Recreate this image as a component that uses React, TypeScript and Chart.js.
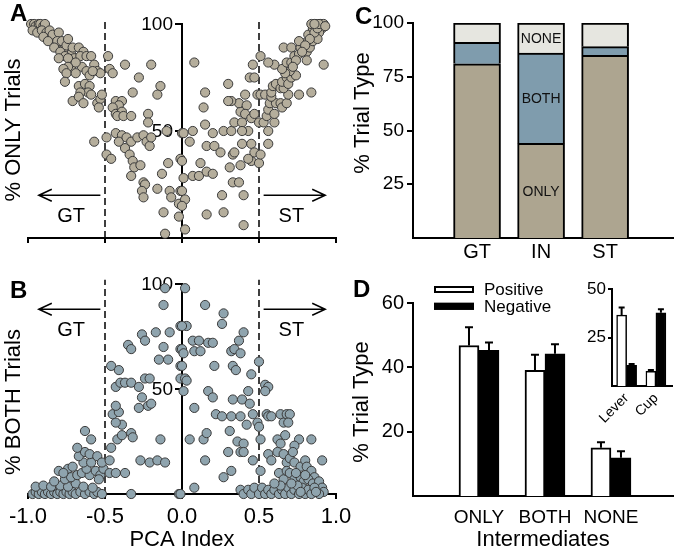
import React, { useEffect, useRef } from "react";
import { Chart, registerables } from "chart.js";

Chart.register(...registerables);

const FONT = '"Liberation Sans", Arial, Helvetica, sans-serif';
Chart.defaults.font.family = FONT;
Chart.defaults.color = "#000";

// ---------------- DATA ----------------
// Panel A: PCA index vs % ONLY trials
const onlyTrials: [number, number][] = [
  [-0.98, 100], [-0.96, 100], [-0.95, 99], [-0.93, 100], [-0.92, 100], [-0.9, 99], [-0.89, 100], [-0.97, 97], [-0.94, 96], [-0.91, 97], [-0.88, 96], [-0.86, 97], [-0.9, 94],
  [-0.85, 93], [-0.82, 90], [-0.77, 88], [-0.72, 86], [-0.7, 84], [-0.84, 95], [-0.87, 92], [-0.72, 80], [-0.65, 80], [-0.62, 78], [-0.6, 76],
  [-0.8, 96], [-0.81, 92], [-0.78, 92], [-0.75, 90], [-0.74, 93], [-0.83, 89], [-0.79, 87], [-0.76, 85], [-0.8, 84], [-0.74, 84], [-0.71, 89], [-0.67, 89], [-0.64, 87], [-0.66, 85], [-0.62, 85], [-0.59, 85], [-0.69, 82], [-0.74, 80], [-0.77, 79], [-0.75, 77], [-0.69, 77], [-0.76, 73], [-0.57, 81], [-0.55, 78], [-0.53, 77], [-0.58, 78],
  [-0.48, 85], [-0.47, 79], [-0.45, 77], [-0.37, 81], [-0.2, 81], [-0.28, 75], [-0.14, 71], [-0.16, 67], [-0.32, 68],
  [-0.67, 71], [-0.63, 72], [-0.6, 71], [-0.61, 68], [-0.66, 68], [-0.71, 64], [-0.67, 66], [-0.64, 63], [-0.59, 67], [-0.55, 63], [-0.53, 65], [-0.52, 67], [-0.54, 61],
  [-0.43, 64], [-0.39, 64], [-0.41, 62], [-0.45, 61], [-0.43, 58], [-0.39, 59], [-0.42, 57], [-0.38, 57], [-0.33, 57], [-0.22, 58], [-0.22, 54], [-0.1, 50],
  [-0.57, 45], [-0.49, 47], [-0.43, 49], [-0.39, 48], [-0.41, 45], [-0.36, 47], [-0.33, 45], [-0.29, 47], [-0.25, 48], [-0.23, 45], [-0.21, 43], [-0.2, 47], [-0.37, 42], [-0.49, 39], [-0.46, 37], [-0.34, 39], [-0.32, 36], [-0.31, 33], [-0.33, 29], [-0.27, 34], [-0.25, 26], [-0.24, 25], [-0.26, 22], [-0.25, 19], [-0.16, 23], [-0.09, 35], [-0.13, 30], [-0.08, 22], [-0.07, 19], [-0.01, 22], [-0.02, 16], [-0.12, 12], [-0.11, 2], [-0.02, 10], [-0.01, 37], [0.0, 49],
  [0.08, 82], [0.15, 68], [0.14, 61], [0.3, 72], [0.01, 49], [0.07, 50], [0.15, 53], [0.2, 49], [0.05, 45], [0.16, 43], [0.21, 43], [0.25, 40], [0.0, 36], [0.12, 35], [0.01, 28], [0.07, 29], [0.11, 29], [0.16, 31], [0.2, 30], [0.0, 22], [0.02, 18], [0.0, 15], [0.02, 4], [0.16, 11], [0.26, 20], [0.27, 12], [0.33, 26], [0.37, 26], [0.4, 20], [0.4, 6], [0.31, 33], [0.33, 39], [0.38, 34], [0.34, 40], [0.39, 44], [0.45, 44], [0.45, 36], [0.5, 35], [0.47, 40], [0.51, 39], [0.43, 37], [0.56, 44],
  [0.27, 50], [0.32, 50], [0.34, 54], [0.39, 54], [0.43, 50], [0.39, 50], [0.38, 59], [0.37, 63], [0.32, 64], [0.3, 64], [0.41, 67], [0.42, 62], [0.41, 58], [0.45, 56], [0.47, 58], [0.5, 54], [0.53, 54], [0.56, 50], [0.55, 57], [0.56, 60], [0.6, 54], [0.6, 58], [0.57, 63], [0.61, 63], [0.64, 63], [0.65, 61], [0.68, 63], [0.69, 67], [0.76, 67], [0.84, 68], [0.49, 67], [0.51, 67], [0.54, 67], [0.58, 66], [0.58, 68], [0.59, 71], [0.61, 72], [0.64, 70], [0.66, 70], [0.65, 73], [0.68, 75], [0.69, 72], [0.71, 75], [0.74, 76], [0.7, 78], [0.67, 77], [0.65, 79], [0.6, 81], [0.56, 82], [0.51, 85], [0.46, 81], [0.44, 75], [0.47, 75],
  [0.66, 89], [0.71, 89], [0.68, 82], [0.71, 82], [0.73, 85], [0.76, 86], [0.77, 89], [0.79, 91], [0.76, 92], [0.81, 87], [0.81, 83], [0.83, 89], [0.85, 92], [0.82, 95], [0.85, 98], [0.87, 100], [0.9, 100], [0.84, 100], [0.92, 100], [0.91, 98], [0.89, 96], [0.88, 93], [0.92, 81],
  [0.86, 96], [0.88, 98], [0.83, 93], [0.8, 90], [0.78, 87], [0.74, 83], [0.72, 80], [0.89, 100], [0.86, 100], [0.93, 99],
];

// Panel B: PCA index vs % BOTH trials
const bothTrials: [number, number][] = [
  [-0.97, 0], [-0.95, 1], [-0.93, 0], [-0.91, 1], [-0.89, 0], [-0.87, 1], [-0.85, 0], [-0.83, 1], [-0.81, 0], [-0.79, 1], [-0.77, 0], [-0.75, 1], [-0.73, 0], [-0.71, 1], [-0.69, 0], [-0.66, 1], [-0.63, 0], [-0.6, 1], [-0.57, 0], [-0.55, 1], [-0.52, 0],
  [-0.95, 3.5], [-0.9, 4], [-0.85, 3.5], [-0.79, 4], [-0.74, 3.5], [-0.69, 5], [-0.64, 3.5], [-0.58, 3],
  [-0.83, 6], [-0.76, 7], [-0.8, 11], [-0.74, 12], [-0.72, 8], [-0.68, 9], [-0.65, 10], [-0.6, 9], [-0.56, 11], [-0.53, 9], [-0.62, 12], [-0.54, 7], [-0.64, 15], [-0.59, 15], [-0.67, 18], [-0.63, 20], [-0.6, 19], [-0.55, 18], [-0.68, 22], [-0.59, 26], [-0.63, 30], [-0.71, 13], [-0.77, 10], [-0.51, 12], [-0.52, 15],
  [-0.47, 10], [-0.43, 10], [-0.37, 10], [-0.47, 16], [-0.46, 22], [-0.42, 26], [-0.39, 28], [-0.39, 33], [-0.43, 34], [-0.45, 38], [-0.41, 39], [-0.43, 42], [-0.33, 29], [-0.32, 27], [-0.27, 16], [-0.21, 15], [-0.16, 16], [-0.11, 15], [-0.14, 26], [-0.33, 0], [-0.02, 0],
  [-0.46, 61], [-0.41, 59], [-0.43, 51], [-0.4, 53], [-0.37, 53], [-0.33, 53], [-0.28, 51], [-0.26, 46], [-0.28, 41], [-0.22, 42], [-0.2, 43], [-0.24, 55], [-0.21, 55],
  [-0.35, 71], [-0.33, 69], [-0.26, 76], [-0.24, 73], [-0.17, 77], [-0.12, 70], [-0.15, 64], [-0.09, 64], [-0.08, 77], [-0.01, 80], [-0.01, 69], [-0.01, 61], [-0.01, 55], [-0.12, 90], [-0.11, 98],
  [0.02, 98], [0.15, 90], [0.27, 86], [0.26, 81], [0.03, 80], [0.0, 80], [0.07, 73], [0.11, 73], [0.17, 72], [0.2, 72], [0.08, 68], [0.12, 68], [0.0, 69], [0.01, 67], [0.0, 61], [0.02, 55], [0.03, 54], [0.01, 49], [0.21, 61], [0.32, 68], [0.34, 69], [0.37, 73], [0.38, 67], [0.4, 77], [0.33, 61], [0.35, 59], [0.45, 57], [0.5, 63], [0.54, 52], [0.56, 51], [0.54, 49], [0.17, 49], [0.2, 46], [0.43, 49], [0.33, 45], [0.39, 45], [0.44, 43],
  [0.08, 41], [0.22, 38], [0.26, 37], [0.32, 37], [0.38, 37], [0.42, 33], [0.46, 38], [0.49, 34], [0.5, 32], [0.31, 30], [0.55, 38], [0.56, 37], [0.58, 37], [0.64, 38], [0.66, 34], [0.68, 38], [0.7, 38], [0.69, 34], [0.67, 28], [0.05, 26], [0.14, 26], [0.16, 29], [0.36, 25], [0.4, 24], [0.38, 20], [0.4, 20], [0.3, 20], [0.51, 26], [0.62, 26], [0.64, 24], [0.76, 26], [0.84, 26], [0.73, 23],
  [0.15, 16], [0.27, 8], [0.32, 11], [0.46, 16], [0.51, 11], [0.56, 19], [0.58, 16], [0.62, 20], [0.66, 19], [0.68, 15], [0.7, 17], [0.72, 20], [0.73, 15], [0.77, 13], [0.8, 16], [0.81, 13], [0.84, 11], [0.91, 16], [0.86, 8], [0.63, 10], [0.66, 7], [0.68, 11], [0.7, 10], [0.73, 7], [0.77, 8], [0.79, 6], [0.82, 7], [0.85, 5], [0.89, 6], [0.91, 3], [0.92, 1],
  [0.08, 3], [0.38, 2], [0.4, 0], [0.43, 2], [0.45, 0], [0.47, 3], [0.5, 0], [0.52, 3], [0.54, 0], [0.56, 2], [0.58, 0], [0.6, 2], [0.63, 0], [0.65, 2], [0.67, 0], [0.69, 3], [0.71, 0], [0.73, 2], [0.76, 0], [0.78, 3], [0.8, 0], [0.82, 2], [0.84, 0], [0.86, 3], [0.89, 0], [-0.01, 0],
  [0.75, 4], [0.71, 5], [0.8, 9], [0.74, 10], [0.87, 1], [0.77, 1], [0.64, 4], [0.6, 5],
];

const pcaTicks = [-1, -0.5, 0, 0.5, 1];
const pctTicksAB = [50, 100];
const cutoffs = [-0.5, 0.5];
const cutoffTop = 102;
const gtArrow = [-0.53, -0.93];
const stArrow = [0.53, 0.93];
const gtLabelX = -0.72;
const stLabelX = 0.71;
const arrowLevelA = 20;
const labelLevelA = 10;
const arrowLevelB = 88;
const labelLevelB = 78;

// Panel C: stacked trial type
const groups = ["GT", "IN", "ST"];
const onlyPct = [81, 44, 85];
const bothPct = [10, 42, 4];
const nonePct = [9, 14, 11];
const stackTicks = [25, 50, 75, 100];

// Panel D: intermediates
const intermediateCats = ["ONLY", "BOTH", "NONE"];
const positiveMean = [46.8, 39.1, 15.0];
const positiveErr = [5.7, 4.8, 1.7];
const negativeMean = [45.3, 44.2, 11.9];
const negativeErr = [2.4, 3.0, 2.0];
const dTicks = [20, 40, 60];

// Panel D inset
const insetCats = ["Lever", "Cup"];
const insetPositive = [36.5, 7.6];
const insetPositiveErr = [4.0, 0.6];
const insetNegative = [10.7, 37.7];
const insetNegativeErr = [0.7, 1.9];
const insetTicks = [25, 50];

// ---------------- STYLE ----------------
const FILL_A = "#b5ae9c";
const FILL_B = "#8fa4ae";
const C_ONLY = "#ada590";
const C_BOTH = "#7f9cad";
const C_NONE = "#e6e6e0";

const axisBorder = { color: "#000", width: 2 };

const fix = (size: number) => (s: any) => {
  if (s.isHorizontal()) s.height = size;
  else s.width = size;
  s.paddingLeft = 0;
  s.paddingRight = 0;
  s.paddingTop = 0;
  s.paddingBottom = 0;
};
const setTicks = (vals: number[]) => (s: any) => {
  s.ticks = vals.map((v) => ({ value: v }));
};

type TextItem = {
  text: string;
  x: number;
  y: number;
  size: number;
  bold?: boolean;
  rotate?: number;
  align?: CanvasTextAlign;
  baseline?: CanvasTextBaseline;
};

const textPlugin = (items: TextItem[]) => ({
  id: "texts",
  afterDraw(chart: any) {
    const ctx = chart.ctx;
    items.forEach((t) => {
      ctx.save();
      ctx.translate(t.x, t.y);
      if (t.rotate) ctx.rotate(t.rotate);
      ctx.font = `${t.bold ? "bold " : ""}${t.size}px ${FONT}`;
      ctx.fillStyle = "#000";
      ctx.textAlign = t.align ?? "center";
      ctx.textBaseline = t.baseline ?? "middle";
      ctx.fillText(t.text, 0, 0);
      ctx.restore();
    });
  },
});

// tick labels for the y axis that sits at PCA index 0 (drawn under the points)
const centerAxisLabels = {
  id: "centerLabels",
  beforeDatasetsDraw(chart: any) {
    const { x, y } = chart.scales;
    const ctx = chart.ctx;
    const ax = x.getPixelForValue(0);
    ctx.save();
    ctx.fillStyle = "#000";
    ctx.font = `19px ${FONT}`;
    ctx.textAlign = "right";
    ctx.textBaseline = "middle";
    y.ticks.forEach((t: any) => {
      ctx.fillText(String(t.value), ax - 9, y.getPixelForValue(t.value) + 1);
    });
    ctx.restore();
  },
};

const arrowPlugin = (arrowY: number, labelY: number) => ({
  id: "arrows",
  afterDatasetsDraw(chart: any) {
    const { x, y } = chart.scales;
    const ctx = chart.ctx;
    const py = y.getPixelForValue(arrowY);
    const ly = y.getPixelForValue(labelY);
    ctx.save();
    ctx.strokeStyle = "#000";
    ctx.lineWidth = 1.5;
    [gtArrow, stArrow].forEach(([from, to]) => {
      const x1 = x.getPixelForValue(from);
      const x2 = x.getPixelForValue(to);
      const dir = Math.sign(x2 - x1);
      ctx.beginPath();
      ctx.moveTo(x1, py);
      ctx.lineTo(x2, py);
      ctx.moveTo(x2 - dir * 13, py - 6);
      ctx.lineTo(x2, py);
      ctx.lineTo(x2 - dir * 13, py + 6);
      ctx.stroke();
    });
    ctx.fillStyle = "#000";
    ctx.font = `20px ${FONT}`;
    ctx.textAlign = "center";
    ctx.textBaseline = "middle";
    ctx.fillText("GT", x.getPixelForValue(gtLabelX), ly);
    ctx.fillText("ST", x.getPixelForValue(stLabelX), ly);
    ctx.restore();
  },
});

const errorBarPlugin = (cap: number) => ({
  id: "errbars",
  afterDatasetsDraw(chart: any) {
    const ctx = chart.ctx;
    const yS = chart.scales.y;
    ctx.save();
    ctx.strokeStyle = "#000";
    ctx.lineWidth = 2;
    chart.data.datasets.forEach((ds: any, i: number) => {
      if (!ds.errors) return;
      const meta = chart.getDatasetMeta(i);
      meta.data.forEach((el: any, j: number) => {
        const top = yS.getPixelForValue(ds.data[j].y + ds.errors[j]);
        ctx.beginPath();
        ctx.moveTo(el.x, el.y);
        ctx.lineTo(el.x, top);
        ctx.moveTo(el.x - cap, top);
        ctx.lineTo(el.x + cap, top);
        ctx.stroke();
      });
    });
    ctx.restore();
  },
});

const segmentLabelPlugin = (groupIndex: number) => ({
  id: "seglabels",
  afterDatasetsDraw(chart: any) {
    const ctx = chart.ctx;
    ctx.save();
    ctx.fillStyle = "#111";
    ctx.font = `14px ${FONT}`;
    ctx.textAlign = "center";
    ctx.textBaseline = "middle";
    chart.data.datasets.forEach((ds: any, i: number) => {
      const el = chart.getDatasetMeta(i).data[groupIndex];
      ctx.fillText(ds.label, el.x, (el.y + el.base) / 2 + 1);
    });
    ctx.restore();
  },
});

const legendPlugin = {
  id: "dlegend",
  afterDraw(chart: any) {
    const ctx = chart.ctx;
    ctx.save();
    chart.data.datasets.forEach((ds: any, i: number) => {
      const cy = 29.5 + i * 16.8;
      ctx.fillStyle = ds.backgroundColor;
      ctx.fillRect(94, cy - 3.5, 40, 7);
      ctx.strokeStyle = "#000";
      ctx.lineWidth = 2;
      ctx.strokeRect(95, cy - 2.5, 38, 5);
      ctx.fillStyle = "#000";
      ctx.font = `17px ${FONT}`;
      ctx.textAlign = "left";
      ctx.textBaseline = "middle";
      ctx.fillText(ds.label, 144, cy + 1);
    });
    ctx.restore();
  },
};

const baseOptions = {
  responsive: false,
  animation: false,
  events: [],
  plugins: { legend: { display: false }, tooltip: { enabled: false } },
};

function scatterConfig(
  points: [number, number][],
  fill: string,
  W: number,
  H: number,
  top: number,
  bottom: number,
  showLabels: boolean,
  arrowY: number,
  labelY: number,
  texts: TextItem[]
) {
  return {
    type: "scatter",
    data: {
      datasets: [
        {
          data: points.map(([x, y]) => ({ x, y })),
          backgroundColor: fill,
          borderColor: "#3a3a3a",
          borderWidth: 1,
          pointRadius: 4.6,
          clip: false,
          order: 0,
        },
        ...cutoffs.map((c) => ({
          type: "line",
          data: [
            { x: c, y: 0 },
            { x: c, y: cutoffTop },
          ],
          borderColor: "#000",
          borderWidth: 1.5,
          borderDash: [7, 4],
          pointRadius: 0,
          clip: false,
          order: 1,
        })),
      ],
    },
    options: {
      ...baseOptions,
      layout: { padding: { left: 28, top, right: W - 336, bottom: 0 } },
      scales: {
        x: {
          type: "linear",
          min: -1,
          max: 1,
          offset: false,
          afterBuildTicks: setTicks(pcaTicks),
          afterFit: fix(H - bottom),
          grid: { drawOnChartArea: false, drawTicks: true, tickLength: 5, color: "#000", lineWidth: 2 },
          border: axisBorder,
          ticks: {
            display: showLabels,
            font: { size: 22 },
            padding: 5,
            maxRotation: 0,
            callback: (v: number) => v.toFixed(1),
          },
          title: showLabels
            ? { display: true, text: "PCA Index", font: { size: 22 }, padding: { top: 0, bottom: 0 } }
            : { display: false },
        },
        y: {
          type: "linear",
          position: { x: 0 },
          min: 0,
          max: 100,
          afterBuildTicks: setTicks(pctTicksAB),
          afterFit: fix(30),
          grid: { drawOnChartArea: false, tickLength: 6, color: "#000", lineWidth: 2 },
          border: axisBorder,
          ticks: { display: false },
        },
      },
    },
    plugins: [centerAxisLabels, arrowPlugin(arrowY, labelY), textPlugin(texts)],
  };
}

function configA() {
  return scatterConfig(onlyTrials, FILL_A, 345, 255, 24, 238, false, arrowLevelA, labelLevelA, [
    { text: "A", x: 10, y: 21, size: 24, bold: true, align: "left", baseline: "alphabetic" },
    { text: "% ONLY Trials", x: 14, y: 130, size: 22, rotate: -Math.PI / 2 },
  ]);
}

function configB() {
  return scatterConfig(bothTrials, FILL_B, 360, 298, 29, 239, true, arrowLevelB, labelLevelB, [
    { text: "B", x: 10, y: 43, size: 24, bold: true, align: "left", baseline: "alphabetic" },
    { text: "% BOTH Trials", x: 14, y: 147, size: 22, rotate: -Math.PI / 2 },
  ]);
}

function configC() {
  const seg = (label: string, vals: number[], color: string) => ({
    label,
    data: vals.map((v, i) => ({ x: i + 1, y: v })),
    backgroundColor: color,
    borderColor: "#000",
    borderWidth: 2,
    borderSkipped: "start",
    barThickness: 47,
    stack: "trials",
  });
  return {
    type: "bar",
    data: {
      datasets: [seg("ONLY", onlyPct, C_ONLY), seg("BOTH", bothPct, C_BOTH), seg("NONE", nonePct, C_NONE)],
    },
    options: {
      ...baseOptions,
      layout: { padding: { left: 0, top: 23, right: 3, bottom: 0 } },
      scales: {
        x: {
          type: "linear",
          min: 0,
          max: 4.06,
          offset: false,
          afterBuildTicks: setTicks([1, 2, 3]),
          afterFit: fix(22),
          grid: { display: false, drawTicks: false, offset: false },
          border: axisBorder,
          ticks: { font: { size: 20 }, padding: 2, maxRotation: 0, callback: (v: number) => groups[v - 1] ?? "" },
        },
        y: {
          type: "linear",
          stacked: true,
          min: 0,
          max: 100,
          afterBuildTicks: setTicks(stackTicks),
          afterFit: fix(73),
          grid: { drawOnChartArea: false, tickLength: 6, color: "#000", lineWidth: 2 },
          border: axisBorder,
          ticks: { font: { size: 19 }, padding: 3 },
        },
      },
    },
    plugins: [
      segmentLabelPlugin(1),
      textPlugin([
        { text: "C", x: 15, y: 24, size: 24, bold: true, align: "left", baseline: "alphabetic" },
        { text: "% Trial Type", x: 23, y: 113, size: 22, rotate: -Math.PI / 2 },
      ]),
    ],
  };
}

function configD() {
  const ds = (label: string, vals: number[], errs: number[], color: string) => ({
    label,
    data: vals.map((v, i) => ({ x: i + 1, y: v })),
    errors: errs,
    backgroundColor: color,
    borderColor: "#000",
    borderWidth: 2,
    borderSkipped: "start",
    barThickness: 20,
  });
  return {
    type: "bar",
    data: {
      datasets: [ds("Positive", positiveMean, positiveErr, "#ffffff"), ds("Negative", negativeMean, negativeErr, "#000000")],
    },
    options: {
      ...baseOptions,
      layout: { padding: { left: 0, top: 43, right: 3, bottom: 0 } },
      scales: {
        x: {
          type: "linear",
          min: 0,
          max: 3.94,
          offset: false,
          afterBuildTicks: setTicks([1, 2, 3]),
          afterFit: fix(57),
          grid: { display: false, drawTicks: false, offset: false },
          border: axisBorder,
          ticks: { font: { size: 19 }, padding: 10, maxRotation: 0, callback: (v: number) => intermediateCats[v - 1] ?? "" },
          title: { display: true, text: "Intermediates", font: { size: 22 }, padding: { top: 0, bottom: 0 } },
        },
        y: {
          type: "linear",
          min: 0,
          max: 60,
          afterBuildTicks: setTicks(dTicks),
          afterFit: fix(73),
          grid: { drawOnChartArea: false, tickLength: 6, color: "#000", lineWidth: 2 },
          border: axisBorder,
          ticks: { font: { size: 20 }, padding: 3 },
        },
      },
    },
    plugins: [
      errorBarPlugin(4),
      legendPlugin,
      textPlugin([
        { text: "D", x: 13, y: 37, size: 24, bold: true, align: "left", baseline: "alphabetic" },
        { text: "% Trial Type", x: 22, y: 142, size: 22, rotate: -Math.PI / 2 },
      ]),
    ],
  };
}

function configInset() {
  const ds = (label: string, vals: number[], errs: number[], color: string) => ({
    label,
    data: vals.map((v, i) => ({ x: i + 1, y: v })),
    errors: errs,
    backgroundColor: color,
    borderColor: "#000",
    borderWidth: 1.5,
    borderSkipped: "start",
    barThickness: 10,
  });
  return {
    type: "bar",
    data: {
      datasets: [
        ds("Positive", insetPositive, insetPositiveErr, "#ffffff"),
        ds("Negative", insetNegative, insetNegativeErr, "#000000"),
      ],
    },
    options: {
      ...baseOptions,
      layout: { padding: { left: 0, top: 9, right: 4, bottom: 0 } },
      scales: {
        x: {
          type: "linear",
          min: 0.5,
          max: 2.55,
          offset: false,
          afterBuildTicks: setTicks([1, 2]),
          afterFit: fix(44),
          grid: { display: false, drawTicks: false, offset: false },
          border: axisBorder,
          ticks: { font: { size: 14 }, padding: 4, minRotation: 45, maxRotation: 45, callback: (v: number) => insetCats[v - 1] ?? "" },
        },
        y: {
          type: "linear",
          min: 0,
          max: 50,
          afterBuildTicks: setTicks(insetTicks),
          afterFit: fix(42),
          grid: { drawOnChartArea: false, tickLength: 4, color: "#000", lineWidth: 2 },
          border: axisBorder,
          ticks: { font: { size: 17 }, padding: 2 },
        },
      },
    },
    plugins: [errorBarPlugin(3)],
  };
}

function ChartCanvas({ left, top, width, height, make }: { left: number; top: number; width: number; height: number; make: () => any }) {
  const ref = useRef<HTMLCanvasElement>(null);
  useEffect(() => {
    const chart = new Chart(ref.current as HTMLCanvasElement, make());
    return () => chart.destroy();
  }, []);
  return <canvas ref={ref} width={width} height={height} style={{ position: "absolute", left, top, width, height }} />;
}

export default function App() {
  return (
    <div style={{ position: "absolute", left: 0, top: 0, width: 676, height: 553, background: "#fff", overflow: "hidden" }}>
      <ChartCanvas left={0} top={0} width={345} height={255} make={configA} />
      <ChartCanvas left={0} top={255} width={360} height={298} make={configB} />
      <ChartCanvas left={340} top={0} width={336} height={260} make={configC} />
      <ChartCanvas left={340} top={260} width={336} height={293} make={configD} />
      <ChartCanvas left={570} top={280} width={106} height={150} make={configInset} />
    </div>
  );
}
